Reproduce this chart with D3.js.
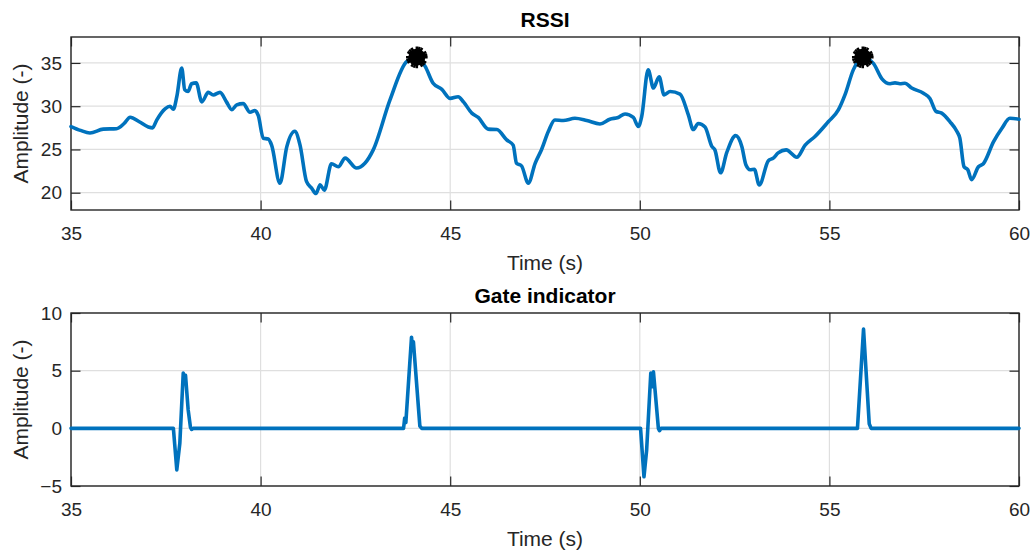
<!DOCTYPE html>
<html><head><meta charset="utf-8">
<script src="https://cdn.jsdelivr.net/npm/d3@7"></script>
<style>
body{margin:0;background:#fff}
svg{display:block}
text{font-family:"Liberation Sans",Arial,Helvetica,sans-serif}
</style>
</head><body>
<svg id="chart" width="1033" height="552"></svg>
<script>
// ---------- data ----------
const rssiTime = [35.0,35.25,35.5,35.85,36.2,36.4,36.56,36.8,37.04,37.15,37.26,37.48,37.61,37.7,37.79,37.92,38.0,38.09,38.18,38.3,38.45,38.62,38.75,38.93,39.1,39.24,39.37,39.54,39.72,39.85,39.94,40.07,40.2,40.29,40.51,40.69,40.9,41.04,41.21,41.35,41.46,41.57,41.68,41.87,42.05,42.23,42.53,42.75,42.97,43.41,43.85,44.12,44.34,44.55,44.78,45.0,45.21,45.35,45.57,45.74,46.0,46.23,46.49,46.66,46.75,46.88,47.06,47.24,47.41,47.59,47.76,47.98,48.29,48.6,48.95,49.21,49.43,49.61,49.83,49.96,50.05,50.22,50.36,50.51,50.64,50.8,51.06,51.28,51.41,51.54,51.72,51.9,51.98,52.13,52.29,52.53,52.69,52.8,52.91,53.02,53.15,53.39,53.52,53.65,53.86,54.14,54.36,54.62,54.97,55.24,55.41,55.63,55.88,56.16,56.38,56.6,56.73,56.86,56.99,57.17,57.48,57.65,57.81,57.96,58.18,58.36,58.44,58.55,58.65,58.75,58.93,59.06,59.33,59.55,59.76,60.0];
const rssiValue = [27.65,27.2,26.9,27.35,27.4,28.0,28.73,28.2,27.6,27.5,28.4,29.7,30.0,29.65,31.1,34.4,31.9,31.7,32.6,32.7,30.5,31.6,31.3,31.6,30.5,29.6,30.15,30.3,29.3,29.5,28.9,26.3,26.2,25.5,21.1,25.3,27.1,25.5,21.3,20.5,19.9,20.9,20.3,23.35,23.0,24.0,22.85,23.4,24.95,30.7,35.15,35.65,34.6,32.65,31.95,30.9,31.1,30.5,29.2,28.7,27.35,27.3,26.1,25.5,23.4,23.1,21.1,23.4,25.0,27.1,28.4,28.35,28.6,28.35,27.95,28.5,28.7,29.1,28.7,27.65,28.8,34.2,32.1,33.4,31.3,31.7,31.4,29.0,27.3,28.0,27.6,25.35,24.95,22.3,24.6,26.6,25.35,23.2,22.65,22.7,20.9,23.7,24.0,24.6,24.95,24.1,25.5,26.5,28.2,29.6,31.3,34.2,35.65,34.95,33.2,32.6,32.7,32.6,32.65,32.1,31.5,30.9,29.4,29.2,28.2,27.1,26.3,23.0,22.65,21.5,23.0,23.35,25.9,27.45,28.6,28.5];
const peakTime = [44.12, 55.88];
const peakValue = [35.65, 35.65];

const gateTime = [35,37.7,37.79,37.87,37.96,37.99,38.02,38.09,38.15,38.18,38.22,43.77,43.8,43.83,43.98,44.01,44.03,44.2,44.25,50.02,50.11,50.18,50.29,50.32,50.36,50.49,50.52,50.56,55.74,55.9,56.05,56.1,60];
const gateValue = [0,0,-3.6,-1.3,4.8,4.2,4.6,1.6,0.1,-0.1,0,0,0.9,0.5,7.9,6.8,7.5,0.2,0,0,-4.2,-1.9,4.8,3.6,4.9,0,-0.2,0,0,8.6,0.4,0,0];

const xTicks = [35,40,45,50,55,60];
const rssiTicks = [20,25,30,35];
const gateTicks = [-5,0,5,10];
const titles = ["RSSI","Gate indicator"];
const xLabel = "Time (s)";
const yLabel = "Amplitude (-)";

// ---------- drawing ----------
const svg = d3.select("#chart");
const L = 71, R = 1019;
const axisColor = "#262626", gridColor = "#dfdfdf", lineColor = "#0072BD";
const tickLen = 9.5;
const x = d3.scaleLinear().domain([35,60]).range([L,R]);

function panel(top, bottom, yDomain, yTicks, title, tx, ty, curve) {
  const y = d3.scaleLinear().domain(yDomain).range([bottom, top]);
  const g = svg.append("g");
  // grid
  g.append("g").selectAll("line").data(xTicks).join("line")
    .attr("x1", d=>x(d)).attr("x2", d=>x(d)).attr("y1", top).attr("y2", bottom)
    .attr("stroke", gridColor).attr("stroke-width", 1.2);
  g.append("g").selectAll("line").data(yTicks).join("line")
    .attr("x1", L).attr("x2", R).attr("y1", d=>y(d)).attr("y2", d=>y(d))
    .attr("stroke", gridColor).attr("stroke-width", 1.2);

  // axes (ticks inward on all four sides)
  const fmt = d3.format("d");
  const xb = g.append("g").attr("transform", `translate(0,${bottom})`)
    .call(d3.axisBottom(x).tickValues(xTicks).tickFormat(fmt).tickSizeInner(-tickLen).tickSizeOuter(0).tickPadding(17));
  const xt = g.append("g").attr("transform", `translate(0,${top})`)
    .call(d3.axisTop(x).tickValues(xTicks).tickFormat("").tickSizeInner(-tickLen).tickSizeOuter(0));
  const yl = g.append("g").attr("transform", `translate(${L},0)`)
    .call(d3.axisLeft(y).tickValues(yTicks).tickFormat(fmt).tickSizeInner(-tickLen).tickSizeOuter(0).tickPadding(9));
  const yr = g.append("g").attr("transform", `translate(${R},0)`)
    .call(d3.axisRight(y).tickValues(yTicks).tickFormat("").tickSizeInner(-tickLen).tickSizeOuter(0));
  [xb,xt,yl,yr].forEach(a=>{
    a.select(".domain").remove();
    a.selectAll(".tick line").attr("stroke", axisColor).attr("stroke-width", 1.2);
    a.selectAll("text").attr("fill", axisColor).attr("font-size", 19).attr("font-family", '"Liberation Sans",Arial,sans-serif');
  });
  // box
  g.append("rect").attr("x", L).attr("y", top).attr("width", R-L).attr("height", bottom-top)
    .attr("fill","none").attr("stroke", axisColor).attr("stroke-width", 1.4);

  // data line
  const line = d3.line().x(d=>x(d[0])).y(d=>y(d[1])).curve(curve);
  g.append("path").datum(tx.map((t,i)=>[t, ty[i]]))
    .attr("d", line).attr("fill","none").attr("stroke", lineColor)
    .attr("stroke-width", 3.6).attr("stroke-linejoin","round").attr("stroke-linecap","round");

  // titles & labels
  svg.append("text").attr("x", (L+R)/2).attr("y", top-10).attr("text-anchor","middle")
    .attr("font-size", 21).attr("font-weight","bold").attr("fill","#000").text(title);
  svg.append("text").attr("x", (L+R)/2).attr("y", bottom+60).attr("text-anchor","middle")
    .attr("font-size", 21).attr("fill", axisColor).text(xLabel);
  svg.append("text").attr("transform", `translate(28,${(top+bottom)/2}) rotate(-90)`)
    .attr("text-anchor","middle").attr("font-size", 21).attr("fill", axisColor).text(yLabel);
  return y;
}

const yTop = panel(37, 210, [18,38], rssiTicks, titles[0], rssiTime, rssiValue, d3.curveMonotoneX);
panel(313, 486, [-5,10], gateTicks, titles[1], gateTime, gateValue, d3.curveLinear);

// peak markers (asterisk-like, black blob)
const mk = svg.append("g").selectAll("g").data(peakTime.map((t,i)=>[t, peakValue[i]])).join("g")
  .attr("transform", d=>`translate(${x(d[0])},${yTop(d[1])})`);
mk.append("circle").attr("r", 8.5).attr("fill","#000");
[0, 15, 30].forEach(rot => {
  mk.append("path").attr("transform",`rotate(${rot})`)
    .attr("d", d3.symbol().type(d3.symbolAsterisk).size(330)())
    .attr("fill","none").attr("stroke","#000").attr("stroke-width", 2.5);
});
</script>
</body></html>
